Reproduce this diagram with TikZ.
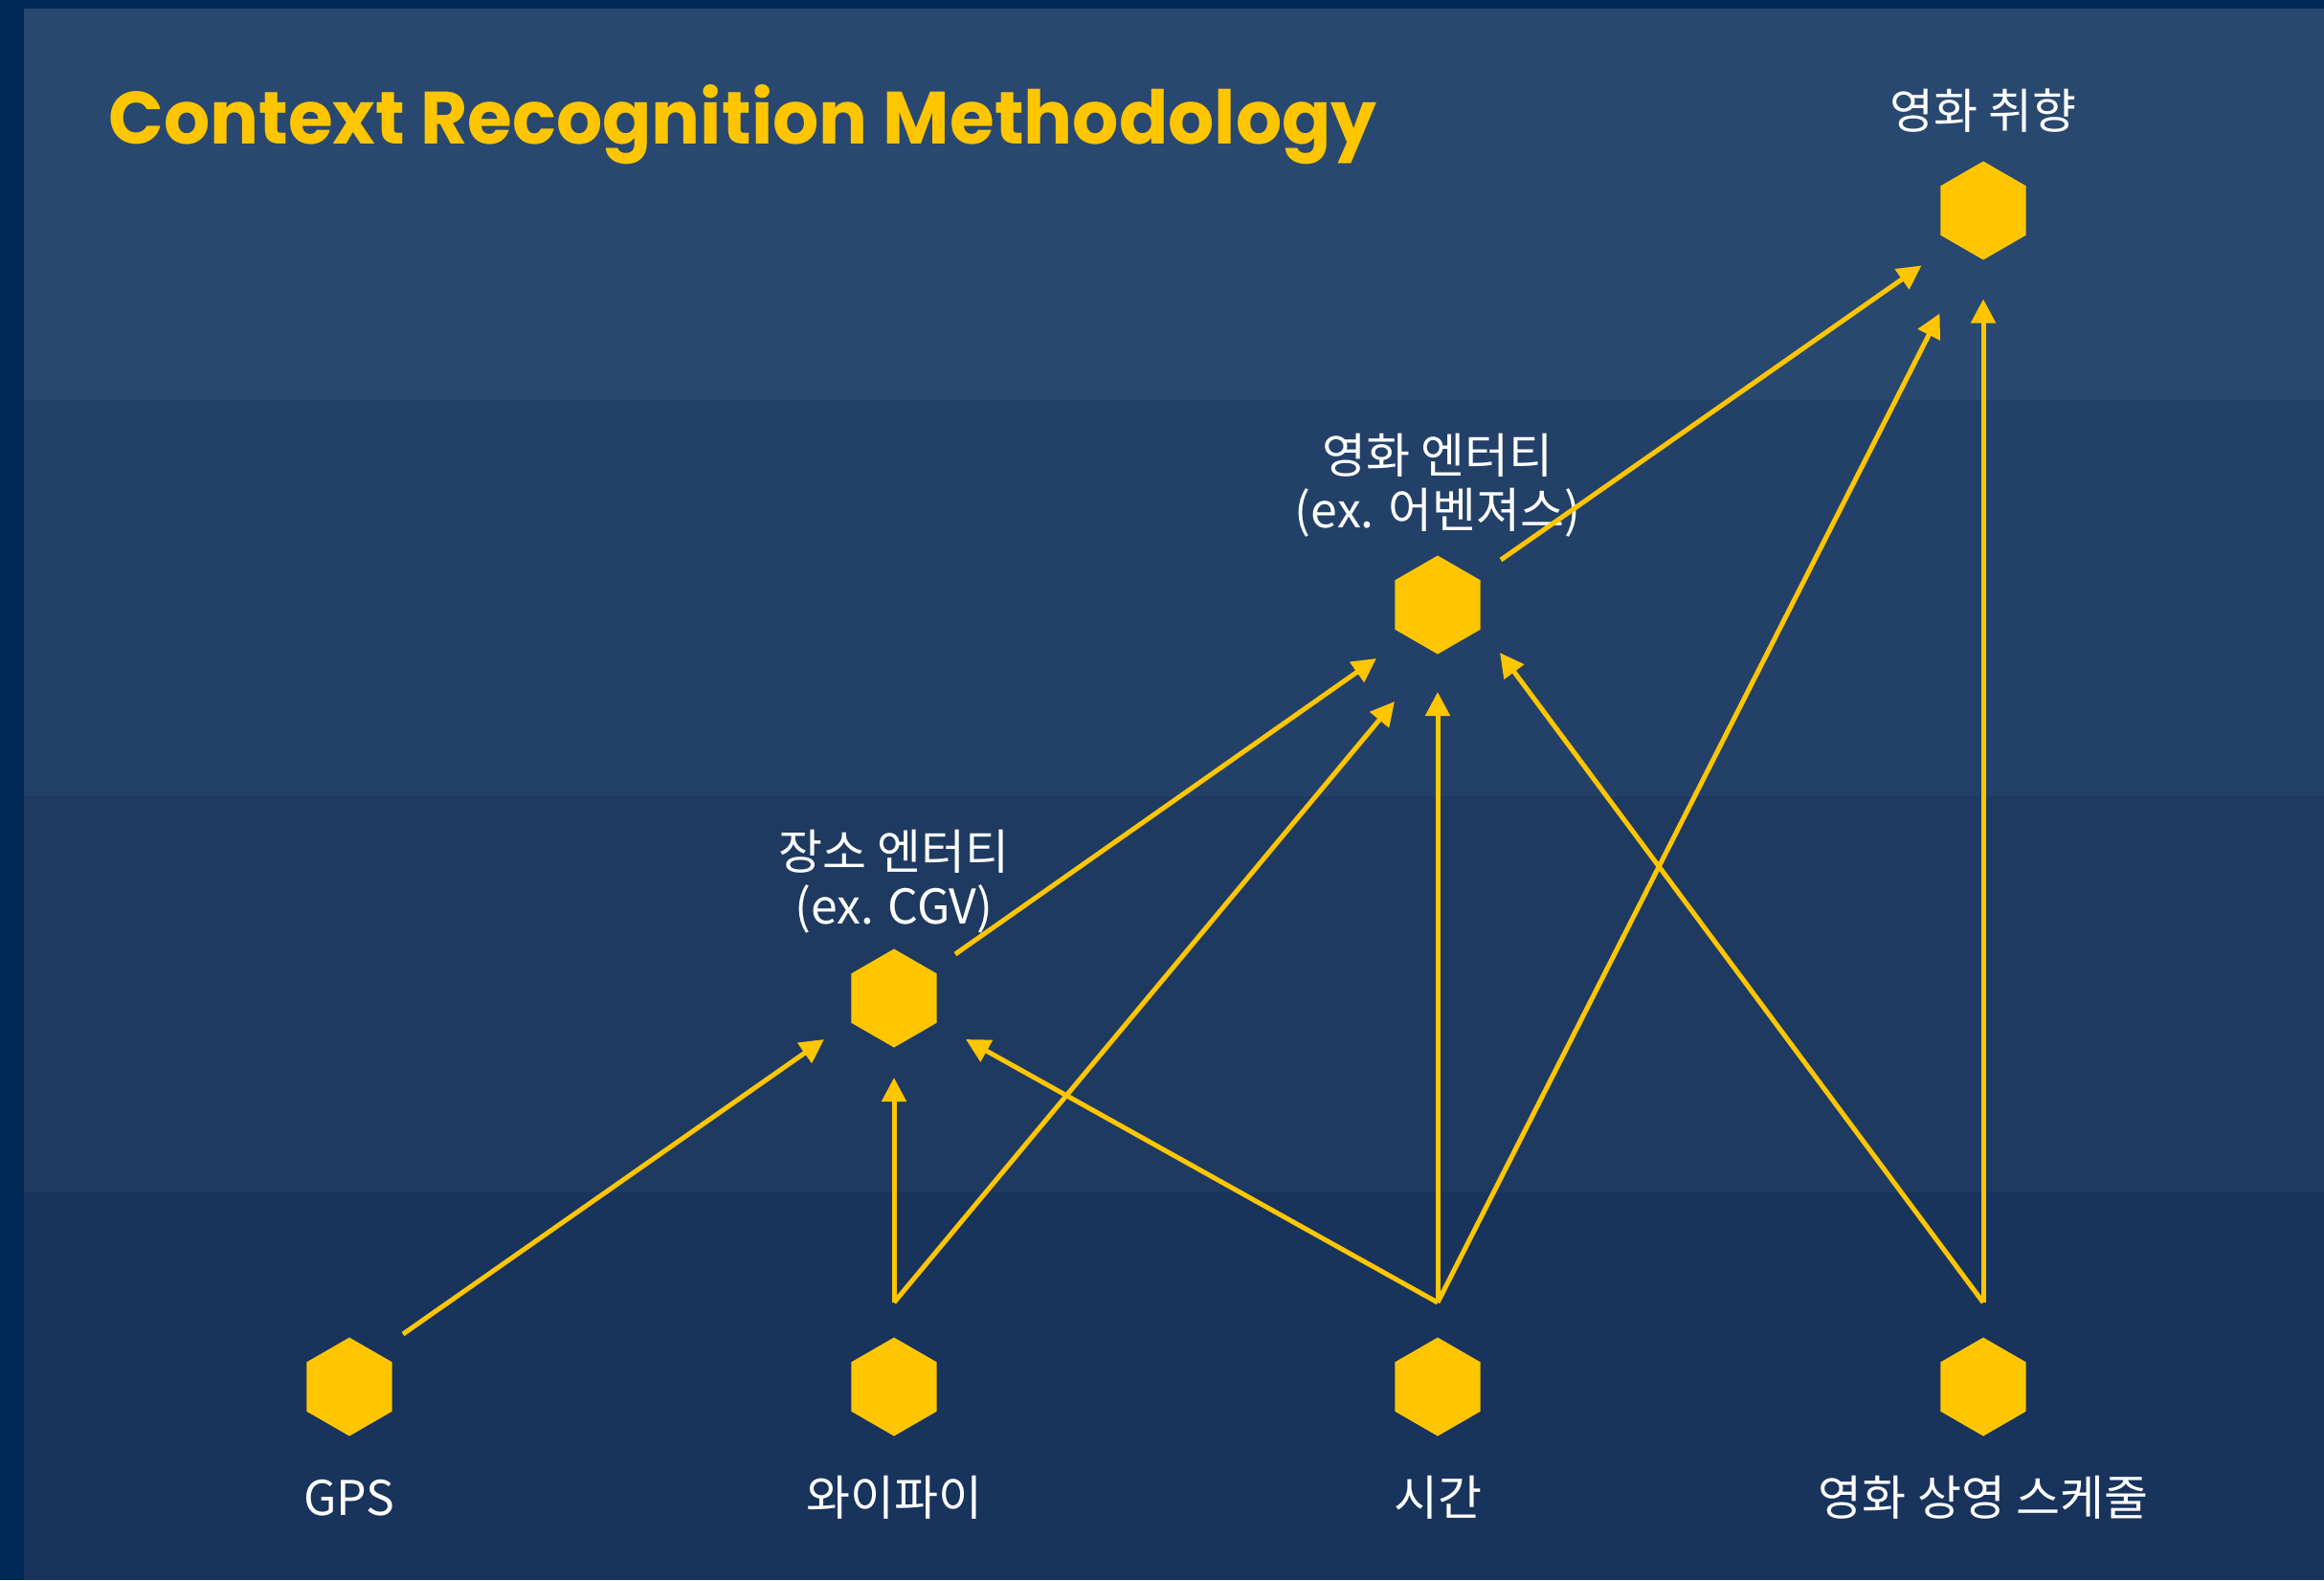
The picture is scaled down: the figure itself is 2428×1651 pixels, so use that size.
\documentclass[tikz,border=0pt]{standalone}
\usepackage{fontspec}
\usepackage{graphicx}
\newfontfamily\kr{Noto Sans CJK KR}
\newfontfamily\titlefont{Poppins}
\usetikzlibrary{shapes.geometric,arrows.meta,calc}
\definecolor{stripe}{RGB}{0,41,87}
\definecolor{bandA}{RGB}{40,72,111}
\definecolor{bandB}{RGB}{35,65,104}
\definecolor{bandC}{RGB}{30,58,97}
\definecolor{bandD}{RGB}{24,51,92}
\definecolor{hexyellow}{RGB}{255,198,0}
\tikzset{
  hexnode/.style={regular polygon, regular polygon sides=6, regular polygon rotate=30,
    minimum size=51.5pt, inner sep=0pt, fill=hexyellow, draw=none},
  conn/.style={draw=hexyellow, line width=2.5pt, -{Triangle[length=12.5pt,width=12.5pt]}},
  lbl/.style={text=white, inner sep=0pt, font=\kr\fontsize{25pt}{28.5pt}\selectfont}
}
\begin{document}
\begin{tikzpicture}[x=0.5pt,y=-0.5pt]
\useasboundingbox (0,0) rectangle (2428,1651);
% background
\fill[stripe] (0,0) rectangle (2428,1651);
\fill[bandA] (25,9) rectangle (2428,418);
\fill[bandB] (25,418) rectangle (2428,832);
\fill[bandC] (25,832) rectangle (2428,1246);
\fill[bandD] (25,1246) rectangle (2428,1651);
% title
\node[anchor=base west, inner sep=0pt] (title) at (113,150)
  {\resizebox{662.5pt}{31pt}{\color{hexyellow}\titlefont\bfseries Context Recognition Methodology}};
% nodes
\node[hexnode] (gps) at (365,1449) {};
\node[hexnode] (wifi) at (934,1449) {};
\node[hexnode] (time) at (1502,1449) {};
\node[hexnode] (sched) at (2072,1449) {};
\node[hexnode] (place) at (934,1043) {};
\node[hexnode] (movie) at (1502,632) {};
\node[hexnode] (pref) at (2072,220) {};
% labels
\node[lbl, anchor=base] (gpsl) at (365,1583) {GPS};
\node[lbl, anchor=base] (wifil) at (934,1583) {와이파이};
\node[lbl, anchor=base] (timel) at (1502,1583) {시간};
\node[lbl, anchor=base] (schedl) at (2072,1583) {영화 상영 스케줄};
\node[lbl, anchor=base, align=center] (placel) at (934,965) {장소 엔터티\\(ex. CGV)};
\node[lbl, anchor=base, align=center] (moviel) at (1502,551) {영화 엔터티\\(ex. 어벤져스)};
\node[lbl, anchor=base] (prefl) at (2072,134) {영화 취향};
% connector start points
\coordinate (gpsout) at ($(gps)+(56,-55)$);
\coordinate (wifiout) at ($(wifi)+(0,-88)$);
\coordinate (timeout) at ($(time)+(0,-88)$);
\coordinate (schedout) at ($(sched)+(0,-88)$);
\coordinate (placeout) at ($(place)+(64,-46)$);
\coordinate (movieout) at ($(movie)+(66,-47)$);
% connector end points (arrow tips)
\coordinate (place-in-gps) at ($(place)+(-73,43)$);
\coordinate (place-in-wifi) at ($(place)+(0,83)$);
\coordinate (place-in-time) at ($(place)+(75,43)$);
\coordinate (movie-in-place) at ($(movie)+(-64,56)$);
\coordinate (movie-in-wifi) at ($(movie)+(-45,101)$);
\coordinate (movie-in-time) at ($(movie)+(0,91)$);
\coordinate (movie-in-sched) at ($(movie)+(65,50)$);
\coordinate (pref-in-movie) at ($(pref)+(-64.5,57.5)$);
\coordinate (pref-in-time) at ($(pref)+(-45.5,107.5)$);
\coordinate (pref-in-sched) at ($(pref)+(0,92.5)$);
% connectors
\draw[conn] (gpsout) -- (place-in-gps);
\draw[conn] (wifiout) -- (place-in-wifi);
\draw[conn] (timeout) -- (place-in-time);
\draw[conn] (placeout) -- (movie-in-place);
\draw[conn] (wifiout) -- (movie-in-wifi);
\draw[conn] (timeout) -- (movie-in-time);
\draw[conn] (schedout) -- (movie-in-sched);
\draw[conn] (movieout) -- (pref-in-movie);
\draw[conn] (timeout) -- (pref-in-time);
\draw[conn] (schedout) -- (pref-in-sched);
\end{tikzpicture}
\end{document}
